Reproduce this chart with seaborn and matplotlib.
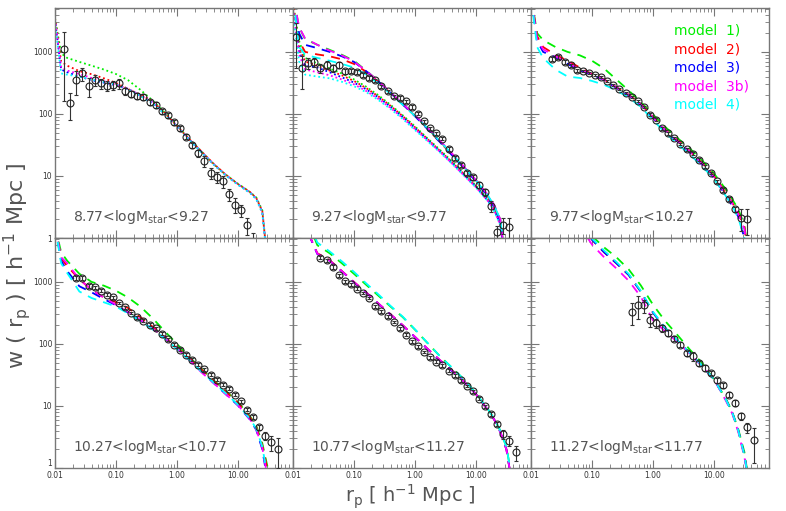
import matplotlib.pyplot as plt
import matplotlib.ticker as mticker
import numpy as np
import seaborn as sns

sns.set_theme(style='ticks')
plt.rcParams['font.family'] = ['DejaVu Sans']
plt.rcParams['mathtext.fontset'] = 'dejavusans'
plt.rcParams['mathtext.default'] = 'regular'

nan = np.nan

model_names = ['model  1)', 'model  2)', 'model  3)', 'model  3b)', 'model  4)']
model_colors = ['#00ee00', '#ff0000', '#0000ff', '#ff00ff', '#00ffff']

mass_bins = ['8.77<logM$_{star}$<9.27',
             '9.27<logM$_{star}$<9.77',
             '9.77<logM$_{star}$<10.27',
             '10.27<logM$_{star}$<10.77',
             '10.77<logM$_{star}$<11.27',
             '11.27<logM$_{star}$<11.77']

# centres of the r_p bins [h^-1 Mpc]
rp_bins = [0.0112, 0.0141, 0.0178, 0.0224, 0.0282, 0.0355, 0.0447, 0.0562, 0.0708,
           0.0891, 0.112, 0.141, 0.178, 0.224, 0.282, 0.355, 0.447, 0.562, 0.708,
           0.891, 1.12, 1.41, 1.78, 2.24, 2.82, 3.55, 4.47, 5.62, 7.08, 8.91,
           11.2, 14.1, 17.8, 22.4, 28.2, 35.5, 44.7]

# measured w(r_p), one value per bin
p1_w = [nan, 1130, 150, 350, 450, 285, 350, 310, 285, 295, 310, 232, 213, 193, 190, 154,
        140, 110, 95, 73, 59, 43, 31, 23.5, 17.2, 11.2, 9.6, 8.2, 5.1, 3.45, 2.8, 1.6, 0.8,
        nan, nan, nan, nan]
p1_err = [nan, 970, 70, 150, 110, 100, 70, 60, 50, 50, 55, 28, 25, 22, 20, 16,
          14, 11, 9, 7, 5.5, 4, 3, 3, 3.5, 2.2, 2, 1.8, 1.1, 0.9, 0.6, 0.5, 0.4,
          nan, nan, nan, nan]

p2_w = [1740, 550, 665, 690, 550, 625, 550, 610, 490, 490, 470, 430, 380, 346, 280, 232,
        193, 181, 159, 130, 101, 76, 59, 49, 40, 27, 19.5, 15.2, 11.2, 9.6, 7.2, 5.5, 3.3,
        1.25, 1.64, 1.5, nan]
p2_err = [1200, 300, 130, 120, 100, 90, 70, 70, 45, 40, 35, 30, 25, 22, 18, 15,
          12, 11, 10, 8, 6, 4.5, 3.5, 3, 2.5, 1.8, 1.4, 1.2, 1.0, 0.9, 0.8, 0.7, 0.7,
          0.3, 0.5, 0.6, nan]

p3_w = [nan, nan, nan, 770, 830, 690, 610, 505, 490, 458, 430, 396, 336, 288, 252, 218,
        188, 160, 130, 97, 81, 59, 49, 41, 33, 27, 23, 18.3, 14.3, 11.2, 8.2, 6.0, 4.3,
        2.9, 2.1, 2.0, nan]
p3_err = [nan, nan, nan, 60, 70, 45, 35, 25, 22, 20, 18, 16, 13, 11, 10, 9,
          8, 7, 6, 5, 4, 3, 2.5, 2, 1.6, 1.3, 1.1, 0.9, 0.7, 0.6, 0.5, 0.4, 0.35,
          0.3, 0.8, 0.9, nan]

p4_w = [nan, nan, nan, 1160, 1160, 850, 815, 725, 625, 565, 458, 390, 316, 270, 238, 205,
        178, 145, 118, 97, 81, 67, 56, 46, 39, 32, 26.6, 22, 19, 15.2, 11.9, 8.7, 6.6,
        4.5, 3.3, 2.6, 2.0]
p4_err = [nan, nan, nan, 80, 90, 60, 50, 40, 35, 30, 25, 20, 17, 15, 13, 11,
          9, 8, 6, 5, 4, 3.5, 3, 2.5, 2, 1.7, 1.4, 1.2, 1.0, 0.8, 0.7, 0.55, 0.45,
          0.4, 0.5, 0.7, 1.0]

p5_w = [nan, nan, nan, nan, 2450, 2240, 1740, 1290, 1020, 910, 775, 665, 550, 405, 336, 280,
        226, 178, 141, 110, 91, 74, 61, 52, 45, 37, 31, 26, 21, 17.3, 13.1, 9.9, 7.5,
        5.1, 3.5, 2.76, 1.79]
p5_err = [nan, nan, nan, nan, 150, 130, 100, 70, 55, 50, 40, 35, 28, 20, 17, 14,
          11, 9, 7, 5.5, 4.5, 3.7, 3, 2.6, 2.2, 1.8, 1.5, 1.3, 1.0, 0.9, 0.7, 0.6, 0.5,
          0.4, 0.6, 0.5, 0.5]

p6_w = [nan] * 16 + [324, 420, 420, 246, 218, 178, 150, 122, 97, 71, 63, 49, 41, 34, 26,
                     21.6, 15.2, 11.2, 6.8, 4.5, 2.8]
p6_err = [nan] * 16 + [125, 170, 100, 60, 35, 25, 15, 12, 9, 7, 10, 5, 4, 3, 2.5,
                       2, 1.5, 1.2, 0.9, 0.9, 1.6]

# model predictions, read at these r_p nodes
model_rp = [0.010, 0.0126, 0.0158, 0.0251, 0.0398, 0.0631, 0.100, 0.158, 0.251, 0.398,
            0.631, 1.00, 1.58, 2.51, 3.98, 6.31, 10.0, 15.8, 20.0, 25.1, 31.6, 39.8]

# order: model 1), 2), 3), 3b), 4)
p1_dotted = [
    [3500, 950, 800, 690, 600, 520, 440, 350, 245, 165, 105, 65, 40, 25, 15.5, 10.5, 7.5, 5.5, 4.5, 2.8, 0.3, 0.3],
    [3500, 700, 600, 490, 437, 376, 316, 253, 204, 160, 103, 64, 39.5, 25, 15.8, 10.5, 7.4, 5.5, 4.4, 2.7, 0.3, 0.3],
    [3300, 520, 470, 400, 350, 320, 290, 250, 198, 150, 100, 63, 39, 24.5, 15.5, 10.3, 7.3, 5.4, 4.3, 2.6, 0.3, 0.3],
    [3400, 560, 500, 440, 380, 336, 297, 255, 200, 155, 101, 63, 39, 24.5, 15.5, 10.4, 7.3, 5.4, 4.3, 2.6, 0.3, 0.3],
    [3000, 450, 430, 400, 360, 330, 300, 250, 195, 150, 99, 62, 38.5, 24, 15.3, 10.2, 7.2, 5.3, 4.2, 2.5, 0.3, 0.3],
]
p2_dashed = [
    [8000, 2500, 1600, 1300, 1080, 900, 720, 500, 340, 220, 145, 95, 60, 37, 23, 14, 8.5, 4.8, 3.3, 2.0, 0.3, 0.3],
    [8000, 1500, 1000, 910, 850, 760, 640, 480, 330, 215, 142, 93, 59, 36, 22.5, 13.8, 8.3, 4.7, 3.2, 1.9, 0.3, 0.3],
    [8000, 2000, 1300, 1150, 1000, 850, 690, 490, 335, 218, 142, 92, 58, 36, 22, 13.5, 8.2, 4.6, 3.2, 1.9, 0.3, 0.3],
    [8000, 2500, 1650, 1300, 1050, 880, 700, 495, 340, 222, 146, 96, 61, 38, 23.5, 14.2, 8.6, 4.9, 3.4, 2.0, 0.3, 0.3],
    [8000, 1200, 900, 800, 720, 640, 560, 430, 310, 210, 140, 93, 60, 37, 23, 14, 8.5, 4.8, 3.3, 2.0, 0.3, 0.3],
]
p2_dotted = [
    [6000, 1500, 800, 650, 540, 450, 360, 275, 200, 140, 95, 63, 41, 27, 17.5, 11, 7, 4.2, 3.0, 1.8, 0.3, 0.3],
    [6000, 1200, 700, 600, 500, 420, 340, 262, 192, 135, 92, 61, 40, 26, 17, 10.8, 6.8, 4.1, 2.9, 1.7, 0.3, 0.3],
    [5000, 1000, 600, 560, 470, 390, 320, 250, 185, 130, 89, 59, 39, 25.5, 16.5, 10.5, 6.7, 4.0, 2.8, 1.7, 0.3, 0.3],
    [5000, 900, 520, 470, 420, 360, 300, 235, 175, 125, 86, 57, 38, 25, 16.2, 10.3, 6.6, 3.9, 2.8, 1.6, 0.3, 0.3],
    [4000, 700, 430, 400, 375, 330, 280, 225, 168, 120, 83, 55, 37, 24.5, 16, 10.2, 6.5, 3.9, 2.7, 1.6, 0.3, 0.3],
]
p3_dashed = [
    [8000, 2000, 1550, 1200, 1000, 880, 720, 540, 360, 240, 155, 98, 62, 41, 28, 18, 11, 6, 4.2, 2.9, 1.6, 0.3],
    [8000, 1800, 1200, 900, 720, 560, 440, 360, 270, 205, 146, 90, 56, 38, 25.5, 16.5, 10, 5.3, 3.7, 2.5, 1.5, 0.3],
    [8000, 1500, 1000, 820, 640, 500, 430, 350, 262, 198, 140, 86, 53, 36, 24, 15.5, 9.3, 4.8, 3.3, 2.2, 1.0, 0.3],
    [8000, 1600, 1100, 850, 680, 520, 440, 355, 268, 202, 143, 88, 55, 37, 25, 16, 9.7, 5.1, 3.6, 2.4, 1.4, 0.3],
    [8000, 1200, 800, 520, 400, 380, 340, 295, 240, 185, 130, 80, 50, 33, 22.5, 14.5, 9, 4.7, 3.3, 2.1, 1.0, 0.3],
]
p4_dashed = [
    [8000, 3000, 2200, 1350, 1000, 870, 720, 560, 400, 260, 160, 100, 62, 40, 26, 17.5, 11.5, 6.8, 4.8, 2.5, 0.9, 0.3],
    [8000, 2400, 1800, 1100, 750, 560, 470, 380, 270, 190, 130, 88, 60, 39, 25.5, 17, 11.2, 6.6, 4.6, 2.3, 0.8, 0.3],
    [8000, 2200, 1500, 850, 680, 530, 420, 320, 240, 175, 125, 84, 56, 36, 23.5, 15.5, 10.2, 6.0, 4.1, 2.0, 0.5, 0.3],
    [8000, 2500, 2000, 1100, 750, 560, 430, 330, 245, 178, 126, 85, 56, 35, 23.5, 15.5, 10.3, 6.1, 4.2, 2.1, 0.6, 0.3],
    [8000, 2000, 1400, 700, 550, 470, 400, 310, 235, 172, 122, 83, 56, 36, 24, 16, 10.5, 6.2, 4.3, 2.2, 0.6, 0.3],
]
p5_dashed = [
    [90000, 30000, 12000, 3900, 2900, 2000, 1350, 900, 600, 400, 270, 170, 105, 65, 42, 27, 16, 8.8, 6.2, 4.0, 2.2, 0.6],
    [60000, 20000, 8000, 2900, 2250, 1500, 1000, 680, 450, 300, 200, 130, 85, 56, 38, 25, 15.5, 8.5, 6.0, 3.8, 2.0, 0.5],
    [60000, 20000, 8000, 2800, 2200, 1480, 980, 670, 445, 298, 198, 129, 84, 55, 37, 25, 15.5, 8.5, 6.0, 3.8, 2.0, 0.5],
    [60000, 20000, 8000, 2850, 2200, 1490, 990, 675, 448, 300, 200, 130, 85, 56, 38, 25, 15.5, 8.5, 6.0, 3.8, 2.0, 0.5],
    [90000, 30000, 13000, 4300, 3100, 2150, 1450, 950, 630, 410, 275, 172, 106, 65, 42, 27, 16, 8.8, 6.2, 4.0, 2.2, 0.6],
]
p6_dashed = [
    [1e6, 1e6, 1e6, 1e5, 3e4, 12000, 5500, 3600, 2500, 1600, 880, 430, 235, 140, 82, 50, 27, 13, 8, 4.2, 1.8, 0.4],
    [1e6, 1e6, 1e6, 1e5, 3e4, 9000, 4800, 3000, 2000, 1300, 700, 320, 180, 112, 72, 45, 27, 12.5, 7.8, 4.0, 1.6, 0.4],
    [1e6, 1e6, 1e6, 1e5, 3e4, 9000, 4800, 3000, 2000, 1300, 700, 320, 180, 112, 72, 45, 27, 12.5, 7.8, 4.0, 1.6, 0.4],
    [1e6, 1e6, 1e6, 1e5, 2e4, 8000, 4000, 2500, 1650, 1050, 580, 240, 160, 108, 70, 44, 27, 12, 7.5, 3.8, 1.5, 0.4],
    [1e6, 1e6, 1e6, 1e5, 3e4, 9500, 5000, 3200, 2100, 1350, 720, 330, 185, 114, 73, 45, 27, 12.5, 7.8, 4.0, 1.6, 0.4],
]

dashed = (0, (5, 4))
dotted = (0, (1, 1.6))

panels = [
    (p1_w, p1_err, [(p1_dotted, dotted)]),
    (p2_w, p2_err, [(p2_dotted, dotted), (p2_dashed, dashed)]),
    (p3_w, p3_err, [(p3_dashed, dashed)]),
    (p4_w, p4_err, [(p4_dashed, dashed)]),
    (p5_w, p5_err, [(p5_dashed, dashed)]),
    (p6_w, p6_err, [(p6_dashed, dashed)]),
]

fig = plt.figure(figsize=(7.86, 5.11), dpi=100)
W, H = 786, 511
x0s = [55, 293, 531]
y_bottoms = [238, 468]
pw, ph = 238, 230

axis_grey = '#777777'
text_grey = '#555555'

for i, (w, err, curve_sets) in enumerate(panels):
    row, col = divmod(i, 3)
    ax = fig.add_axes([x0s[col] / W, 1 - y_bottoms[row] / H, pw / W, ph / H])
    ax.set_xscale('log')
    ax.set_yscale('log')

    for curves, ls in curve_sets:
        for vals, color in zip(curves, model_colors):
            sns.lineplot(x=model_rp, y=vals, ax=ax, color=color, linestyle=ls,
                         linewidth=1.3, estimator=None, sort=False)

    ax.errorbar(rp_bins, w, yerr=err, fmt='o', mfc='none', mec='#222222', ms=5,
                mew=0.8, ecolor='#333333', elinewidth=0.8, capsize=1.2,
                capthick=0.8, zorder=5)

    ax.set_xlim(0.01, 80)
    ax.set_ylim(1, 5100)

    ax.xaxis.set_major_locator(mticker.FixedLocator([0.01, 0.1, 1, 10]))
    ax.xaxis.set_minor_locator(mticker.LogLocator(base=10, subs=np.arange(2, 10), numticks=20))
    ax.yaxis.set_major_locator(mticker.FixedLocator([1, 10, 100, 1000]))
    ax.yaxis.set_minor_locator(mticker.LogLocator(base=10, subs=np.arange(2, 10), numticks=20))
    ax.xaxis.set_minor_formatter(mticker.NullFormatter())
    ax.yaxis.set_minor_formatter(mticker.NullFormatter())

    if row == 1:
        ax.set_xticklabels(['0.01', '0.10', '1.00', '10.00'])
    else:
        ax.set_xticklabels([])
    if col == 0:
        ax.set_yticklabels(['1', '10', '100', '1000'])
    else:
        ax.set_yticklabels([])

    ax.tick_params(which='both', direction='in', top=True, right=True,
                   color=axis_grey, labelsize=5.5, labelcolor='#333333', pad=2)
    ax.tick_params(which='major', length=6, width=0.8)
    ax.tick_params(which='minor', length=3, width=0.6)
    if row == 1 and col == 0:
        # keep the "1" clear of the "0.01" just below it
        ax.get_yticklabels()[0].set_va('bottom')
    for sp in ax.spines.values():
        sp.set_color(axis_grey)
        sp.set_linewidth(1.0)
    ax.set_xlabel('')
    ax.set_ylabel('')

    ax.text(0.075, 0.09, mass_bins[i], transform=ax.transAxes, fontsize=10,
            color=text_grey, ha='left', va='center')

    if i == 2:
        for k, (name, color) in enumerate(zip(model_names, model_colors)):
            ax.text(0.60, 0.90 - 0.08 * k, name, transform=ax.transAxes,
                    fontsize=10, color=color, ha='left', va='center')

fig.text(0.022, 0.48, 'w ( r$_{p}$ ) [ h$^{-1}$ Mpc ]', rotation=90,
         fontsize=16, color=text_grey, ha='center', va='center')
fig.text(0.522, 0.0, 'r$_{p}$ [ h$^{-1}$ Mpc ]', fontsize=14,
         color=text_grey, ha='center', va='bottom')

fig.savefig('out.png', dpi=100)
